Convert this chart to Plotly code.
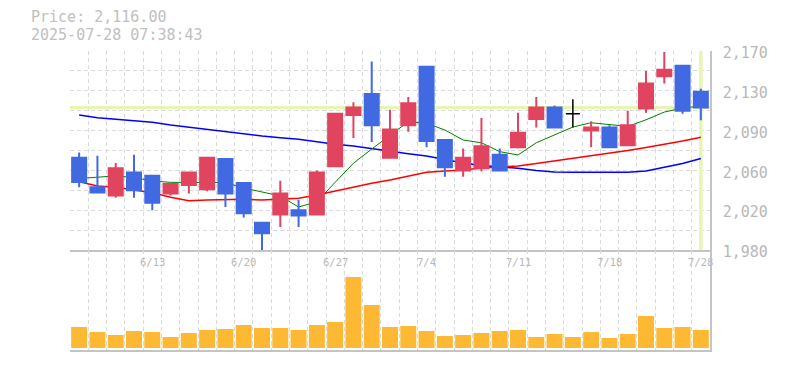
import plotly.graph_objects as go

# ---------------- data ----------------
dates = ["2025-06-09", "2025-06-10", "2025-06-11", "2025-06-12", "2025-06-13",
         "2025-06-16", "2025-06-17", "2025-06-18", "2025-06-19", "2025-06-20",
         "2025-06-23", "2025-06-24", "2025-06-25", "2025-06-26", "2025-06-27",
         "2025-06-30", "2025-07-01", "2025-07-02", "2025-07-03", "2025-07-04",
         "2025-07-07", "2025-07-08", "2025-07-09", "2025-07-10", "2025-07-11",
         "2025-07-14", "2025-07-15", "2025-07-16", "2025-07-17", "2025-07-18",
         "2025-07-22", "2025-07-23", "2025-07-24", "2025-07-25", "2025-07-28"]
opens = [2068, 2040, 2032, 2054, 2051, 2034, 2042, 2038, 2067, 2044,
         2006, 2014, 2018, 2014, 2060, 2109, 2129, 2068, 2099, 2155,
         2085, 2056, 2058, 2071, 2078, 2105, 2116, 2110, 2094, 2097,
         2080, 2115, 2146, 2156, 2131]
highs = [2073, 2070, 2063, 2071, 2051, 2044, 2055, 2068, 2067, 2044,
         2007, 2046, 2028, 2056, 2110, 2121, 2160, 2114, 2126, 2155,
         2085, 2077, 2106, 2077, 2111, 2126, 2118, 2124, 2103, 2099,
         2113, 2151, 2169, 2156, 2134]
lows = [2040, 2034, 2030, 2030, 2018, 2032, 2034, 2036, 2021, 2011,
        1980, 2002, 2002, 2014, 2059, 2087, 2083, 2068, 2093, 2078,
        2050, 2050, 2055, 2056, 2077, 2097, 2096, 2097, 2078, 2078,
        2080, 2111, 2139, 2110, 2104]
closes = [2045, 2035, 2058, 2037, 2025, 2043, 2054, 2068, 2034, 2015,
          1996, 2034, 2013, 2054, 2110, 2116, 2099, 2095, 2120, 2084,
          2059, 2068, 2079, 2056, 2092, 2116, 2097, 2110, 2097, 2078,
          2099, 2139, 2152, 2113, 2116]
volumes = [21000, 16000, 13000, 17000, 16000, 11000, 15000, 18000, 19000, 23000,
           20000, 20000, 18000, 23000, 26000, 71000, 43000, 21000, 22000, 17000,
           12000, 13000, 15000, 17000, 18000, 11000, 14000, 11000, 16000, 10000,
           14000, 32000, 20000, 21000, 18000]
ma_short = [2048.3, 2049.7, 2050.7, 2049.2, 2045.9, 2044.6, 2044.6, 2044.6, 2044.4, 2039.2,
            2035.4, 2031.6, 2021.0, 2026.1, 2044.6, 2062.8, 2076.4, 2089.8, 2102.5, 2101.0,
            2094.6, 2085.0, 2082.4, 2073.9, 2070.7, 2082.4, 2089.8, 2097.4, 2101.5, 2099.8,
            2098.0, 2104.3, 2111.7, 2115.5, 2117.5]
ma_mid = [2045.2, 2041.1, 2039.9, 2037.3, 2034.7, 2030.3, 2027.1, 2027.7, 2028.4, 2028.4,
          2027.7, 2028.7, 2029.4, 2032.5, 2036.3, 2039.5, 2043.7, 2046.8, 2050.7, 2054.2,
          2055.4, 2056.4, 2058.3, 2059.2, 2060.2, 2062.6, 2065.0, 2067.4, 2069.7, 2072.1,
          2075.0, 2077.9, 2080.7, 2084.1, 2087.6]
ma_long = [2108.9, 2106.3, 2104.8, 2103.2, 2101.9, 2099.3, 2097.1, 2094.9, 2093.0, 2091.0,
           2088.8, 2087.2, 2085.7, 2083.4, 2080.9, 2079.3, 2077.1, 2074.5, 2072.0, 2069.7,
           2066.4, 2063.1, 2060.7, 2059.5, 2058.0, 2055.9, 2054.5, 2054.2, 2054.2, 2054.2,
           2054.2, 2055.4, 2058.8, 2062.6, 2067.4]
label_dates = ["2025-06-13", "2025-06-20", "2025-06-27", "2025-07-04",
               "2025-07-11", "2025-07-18", "2025-07-28"]
label_texts = ["6/13", "6/20", "6/27", "7/4", "7/11", "7/18", "7/28"]
price_ticks = [1980, 1999, 2018, 2037, 2056, 2075, 2094, 2113, 2132, 2151, 2170]
price_tick_text = ["1,980", "", "2,020", "", "2,060", "", "2,090", "", "2,130", "", "2,170"]
price_text = "Price: 2,116.00"
time_text = "2025-07-28 07:38:43"
current_price = 2116

# ---------------- styles ----------------
W, H = 785, 370
ML, MR, MT, MB = 70, 75, 51, 20
PH = H - MT - MB
VOL_H = 100
split = VOL_H / PH
RED = "#e0445f"
BLUE = "#4169e1"
ORANGE = "#fdb933"
GRID = "#dadada"
AXIS = "#c4c4c4"
TXT = "#b8b8b8"
YEL = "#e6f5b0"
FONT = "DejaVu Sans Mono"

x = list(range(len(dates)))
n = len(x)
main_idx = [i for i in x if opens[i] != closes[i]]
doji_idx = [i for i in x if opens[i] == closes[i]]

fig = go.Figure()

# moving averages (drawn under candles)
fig.add_trace(go.Scatter(x=x, y=ma_long, mode="lines", line=dict(color="#0000ff", width=1.5),
                         xaxis="x", yaxis="y", hoverinfo="skip"))
fig.add_trace(go.Scatter(x=x, y=ma_mid, mode="lines", line=dict(color="#ff0000", width=1.5),
                         xaxis="x", yaxis="y", hoverinfo="skip"))
fig.add_trace(go.Scatter(x=x, y=ma_short, mode="lines", line=dict(color="#008000", width=1),
                         xaxis="x", yaxis="y", hoverinfo="skip"))

# candles on overlaying axis
fig.add_trace(go.Candlestick(
    x=[x[i] for i in main_idx],
    open=[opens[i] for i in main_idx], high=[highs[i] for i in main_idx],
    low=[lows[i] for i in main_idx], close=[closes[i] for i in main_idx],
    increasing=dict(line=dict(color=RED, width=2), fillcolor=RED),
    decreasing=dict(line=dict(color=BLUE, width=2), fillcolor=BLUE),
    whiskerwidth=0, xaxis="x", yaxis="y3", hoverinfo="skip"))
fig.add_trace(go.Candlestick(
    x=[x[i] for i in doji_idx],
    open=[opens[i] for i in doji_idx], high=[highs[i] for i in doji_idx],
    low=[lows[i] for i in doji_idx], close=[closes[i] for i in doji_idx],
    increasing=dict(line=dict(color="#000000", width=1.5), fillcolor="#000000"),
    decreasing=dict(line=dict(color="#000000", width=1.5), fillcolor="#000000"),
    whiskerwidth=0, xaxis="x", yaxis="y3", hoverinfo="skip"))

# volume
fig.add_trace(go.Bar(x=x, y=volumes, width=0.875, marker=dict(color=ORANGE, line=dict(width=0)),
                     xaxis="x2", yaxis="y2", hoverinfo="skip"))

xr = [-0.5, n - 0.5]
yr = [price_ticks[0], price_ticks[-1]]

common_x = dict(range=xr, tick0=-0.5, dtick=1, showgrid=True, gridcolor=GRID, griddash="4px,3px",
                gridwidth=1, zeroline=False, showticklabels=False, ticks="", automargin=False,
                showline=True, linecolor=AXIS, linewidth=1.5, fixedrange=True)

fig.update_layout(
    width=W, height=H, margin=dict(l=ML, r=MR, t=MT, b=MB, autoexpand=False),
    paper_bgcolor="white", plot_bgcolor="white", showlegend=False,
    boxgap=0.234, boxgroupgap=0,
    xaxis=dict(domain=[0, 1], anchor="y", rangeslider=dict(visible=False), **common_x),
    xaxis2=dict(domain=[0, 1], anchor="y2", matches="x", **common_x),
    yaxis=dict(domain=[split, 1], range=yr, side="right", tickvals=price_ticks,
               ticktext=price_tick_text, showgrid=True, gridcolor=GRID, griddash="4px,3px",
               zeroline=False, showline=True, linecolor=AXIS, linewidth=1.5, ticks="",
               ticklabelstandoff=8, ticklabelshift=2, automargin=False,
               tickfont=dict(family=FONT, size=15, color=TXT), fixedrange=True),
    yaxis3=dict(overlaying="y", anchor="x", range=yr, side="right", showgrid=False,
                automargin=False,
                showticklabels=False, zeroline=False, showline=False, ticks="", fixedrange=True),
    yaxis2=dict(domain=[0, split], range=[-2000, 98000], side="right", showgrid=False,
                zeroline=False, showticklabels=False, ticks="", showline=True, automargin=False,
                linecolor=AXIS, linewidth=1.5, fixedrange=True),
)

# current price line and current date line
fig.add_shape(type="line", xref="x", yref="y", x0=xr[0], x1=xr[1], y0=current_price,
              y1=current_price, line=dict(color=YEL, width=3), layer="between")
fig.add_shape(type="line", xref="x", yref="y", x0=x[-1], x1=x[-1], y0=yr[0],
              y1=yr[1], line=dict(color=YEL, width=3.5), layer="between")

# date labels
lab_y = (PH - (261.5 - MT)) / PH
for d, t in zip(label_dates, label_texts):
    fig.add_annotation(x=dates.index(d), y=lab_y, xref="x", yref="paper", text=t,
                       showarrow=False, xanchor="center", yanchor="middle",
                       font=dict(family=FONT, size=10.5, color=TXT))

# header text
for t, py in [(price_text, 17.5), (time_text, 35)]:
    fig.add_annotation(x=(29 - ML) / (W - ML - MR), y=(PH - (py - MT)) / PH, xref="paper",
                       yref="paper", text=t, showarrow=False, xanchor="left",
                       yanchor="middle", font=dict(family=FONT, size=15, color="#c0c0c0"))

fig.write_html("out.html", post_script="document.body.style.margin='0px';",
               config={"displayModeBar": False})
